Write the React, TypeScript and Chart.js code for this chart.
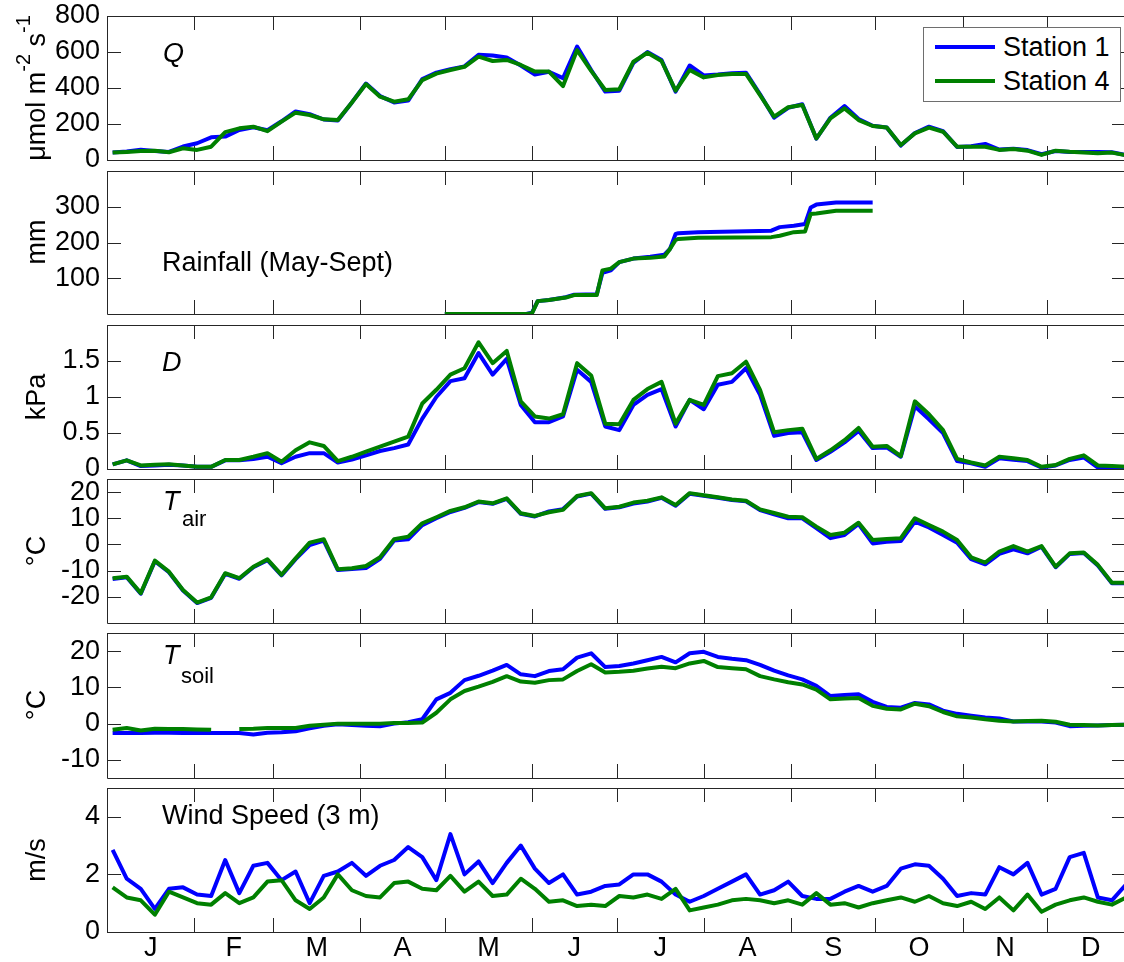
import React, { useEffect, useRef } from "react";
import { Chart, registerables } from "chart.js";

Chart.register(...registerables);

const FONT = '"Liberation Sans", Arial, Helvetica, sans-serif';
const FS = 27;
const BLUE = "#0000ff";
const GREEN = "#008000";
const AXIS = "#262626";

// ---------- data ----------
const DAYS = [2, 7, 12, 17, 22, 27, 32, 37, 42, 47, 52, 57, 62, 67, 72, 77, 82, 87, 92, 97, 102, 107, 112, 117, 122, 127, 132, 137, 142, 147, 152, 157, 162, 167, 172, 177, 182, 187, 192, 197, 202, 207, 212, 217, 222, 227, 232, 237, 242, 247, 252, 257, 262, 267, 272, 277, 282, 287, 292, 297, 302, 307, 312, 317, 322, 327, 332, 337, 342, 347, 352, 357, 362];

const MONTH_STARTS = [0, 31, 59, 90, 120, 151, 181, 212, 243, 273, 304, 334];
const MONTH_MIDS = [15.5, 45, 74.5, 105, 135.5, 166, 196.5, 227.5, 258, 288.5, 319, 349.5];
const MONTH_LABELS = ["J", "F", "M", "A", "M", "J", "J", "A", "S", "O", "N", "D"];

const Q_S1 = [42, 47, 57, 50, 45, 75, 93, 126, 130, 167, 182, 165, 215, 270, 255, 225, 220, 320, 425, 355, 320, 330, 450, 485, 505, 520, 585, 580, 570, 525, 475, 490, 455, 630, 500, 380, 385, 540, 600, 555, 380, 525, 470, 475, 482, 485, 365, 235, 290, 310, 118, 235, 300, 228, 190, 180, 80, 150, 185, 160, 72, 76, 89, 58, 63, 55, 32, 50, 45, 45, 45, 43, 28];
const Q_S4 = [41, 45, 50, 52, 43, 65, 56, 74, 155, 176, 185, 160, 213, 263, 250, 226, 222, 320, 422, 352, 324, 337, 444, 480, 500, 518, 574, 550, 556, 528, 491, 491, 411, 611, 495, 389, 393, 546, 596, 550, 385, 500, 459, 472, 478, 478, 360, 241, 293, 306, 120, 231, 287, 222, 189, 181, 83, 148, 180, 157, 74, 74, 74, 56, 61, 52, 28, 52, 46, 42, 37, 41, 26];

const RAIN_DAYS = [120, 149, 151, 153, 157, 163, 166, 174, 176, 179, 182, 187, 193, 198, 200, 202, 203, 210, 236, 239, 244, 248, 250, 252, 259, 272];
const RAIN_S1 = [0, 0, 4, 36, 39, 47, 54, 55, 115, 122, 145, 155, 160, 166, 182, 224, 226, 229, 233, 243, 247, 252, 298, 306, 312, 312];
const RAIN_S4 = [0, 0, 2, 36, 39, 46, 53, 53, 122, 127, 145, 155, 157, 161, 182, 207, 210, 213, 215, 219, 229, 231, 280, 281, 289, 289];

const D_S1 = [0.065, 0.12, 0.04, 0.05, 0.06, 0.05, 0.03, 0.03, 0.12, 0.12, 0.14, 0.17, 0.08, 0.17, 0.22, 0.22, 0.09, 0.13, 0.19, 0.25, 0.29, 0.34, 0.7, 1.0, 1.22, 1.26, 1.61, 1.31, 1.53, 0.89, 0.65, 0.65, 0.73, 1.38, 1.21, 0.59, 0.54, 0.89, 1.03, 1.11, 0.59, 0.96, 0.83, 1.17, 1.21, 1.4, 1.03, 0.46, 0.5, 0.51, 0.125, 0.24, 0.37, 0.53, 0.29, 0.3, 0.17, 0.87, 0.69, 0.5, 0.11, 0.08, 0.03, 0.15, 0.13, 0.11, 0.02, 0.05, 0.125, 0.16, 0.02, 0.02, 0.02];
const D_S4 = [0.065, 0.12, 0.05, 0.06, 0.065, 0.05, 0.03, 0.03, 0.125, 0.125, 0.17, 0.22, 0.1, 0.26, 0.37, 0.32, 0.11, 0.17, 0.24, 0.31, 0.38, 0.45, 0.91, 1.1, 1.31, 1.4, 1.76, 1.47, 1.64, 0.94, 0.73, 0.7, 0.76, 1.47, 1.3, 0.63, 0.62, 0.96, 1.11, 1.21, 0.63, 0.96, 0.89, 1.29, 1.33, 1.49, 1.1, 0.51, 0.54, 0.56, 0.14, 0.26, 0.4, 0.57, 0.31, 0.32, 0.18, 0.94, 0.76, 0.54, 0.14, 0.09, 0.05, 0.17, 0.15, 0.125, 0.03, 0.055, 0.14, 0.19, 0.05, 0.04, 0.03];

const TAIR_S1 = [-13.2, -12.5, -18.8, -6.4, -10.6, -17.6, -22.4, -20.4, -11.2, -13.1, -8.7, -6, -11.8, -5.6, -0.2, 1.5, -9.8, -9.4, -9, -5.5, 1.5, 2, 7.4, 10, 12.4, 14, 16.2, 15.5, 17.4, 11.7, 10.7, 12.6, 13.5, 18.3, 19.4, 13.6, 14.2, 15.6, 16.4, 17.8, 14.8, 19.4, 18.6, 17.8, 17, 16.5, 13.1, 11.5, 10, 10, 6.2, 2.4, 3.6, 7.8, 0.4, 1, 1.3, 8.7, 6.5, 3.6, 0.7, -5.6, -7.6, -3.6, -1.9, -3.4, -0.9, -8.7, -3.6, -3.3, -8, -14.8, -14.8];
const TAIR_S4 = [-12.9, -12.3, -18.6, -6.2, -10.4, -17.4, -22.2, -20.2, -11, -12.9, -8.5, -5.7, -11.6, -5.3, 0.7, 2, -9.5, -9.1, -8.2, -4.9, 2, 3, 8.1, 10.4, 12.8, 14.2, 16.4, 15.7, 17.6, 11.9, 10.9, 12.3, 13.2, 18.5, 19.6, 13.8, 14.4, 16, 16.7, 18, 15.1, 19.6, 18.8, 18, 17.2, 16.7, 13.4, 12, 10.6, 10.4, 6.8, 3.6, 4.5, 8.3, 1.7, 2.1, 2.4, 10, 7.4, 4.9, 1.7, -4.9, -6.9, -2.7, -0.6, -2.7, -0.6, -8.5, -3.4, -3.1, -7.8, -14.6, -14.6];

const TSOIL_S1 = [-2.6, -2.6, -2.6, -2.5, -2.5, -2.6, -2.6, -2.6, -2.6, -2.6, -3.0, -2.5, -2.4, -2.1, -1.3, -0.6, -0.2, -0.4, -0.6, -0.7, 0, 0.4, 1.2, 6.7, 8.5, 12, 13.2, 14.6, 16.2, 13.6, 13.1, 14.5, 15, 18.2, 19.4, 15.6, 15.9, 16.6, 17.5, 18.4, 16.9, 19.4, 19.8, 18.4, 17.9, 17.5, 16.2, 14.6, 13.3, 12.2, 10.4, 7.6, 7.9, 8.1, 6, 4.6, 4.4, 5.7, 5.3, 3.6, 2.7, 2.2, 1.7, 1.4, 0.6, 0.6, 0.6, 0.3, -0.7, -0.6, -0.5, -0.4, -0.3];
const TSOIL_S4 = [-1.7, -1.2, -1.9, -1.4, -1.5, -1.5, -1.6, -1.7, null, -1.5, -1.4, -1.2, -1.2, -1.2, -0.6, -0.3, 0, 0, 0, 0, 0.2, 0.2, 0.3, 3, 6.7, 9, 10.2, 11.5, 13.1, 11.6, 11.3, 12, 12.2, 14.5, 16.4, 14.1, 14.3, 14.6, 15.2, 15.7, 15.3, 16.6, 17.3, 15.6, 15.3, 15, 13.1, 12.2, 11.4, 10.8, 9.4, 6.7, 6.9, 7.1, 4.9, 4.1, 3.9, 5.5, 4.8, 3.2, 2, 1.7, 1.2, 0.8, 0.6, 0.7, 0.8, 0.5, -0.3, -0.4, -0.5, -0.4, -0.3];

const WIND_S1 = [2.85, 1.85, 1.5, 0.8, 1.5, 1.55, 1.3, 1.25, 2.5, 1.35, 2.3, 2.4, 1.8, 2.1, 1.0, 1.95, 2.1, 2.4, 1.95, 2.3, 2.5, 2.95, 2.6, 1.8, 3.4, 2.0, 2.45, 1.7, 2.4, 3.0, 2.2, 1.7, 2.0, 1.3, 1.4, 1.6, 1.65, 2.0, 2.0, 1.75, 1.3, 1.05, 1.25, 1.5, 1.75, 2.0, 1.3, 1.45, 1.75, 1.25, 1.15, 1.15, 1.4, 1.6, 1.4, 1.6, 2.2, 2.35, 2.3, 1.85, 1.25, 1.35, 1.3, 2.25, 2.0, 2.4, 1.3, 1.5, 2.6, 2.75, 1.2, 1.1, 1.65];
const WIND_S4 = [1.55, 1.2, 1.1, 0.6, 1.4, 1.2, 1.0, 0.95, 1.35, 1.0, 1.2, 1.75, 1.8, 1.1, 0.8, 1.2, 2.0, 1.45, 1.25, 1.2, 1.7, 1.75, 1.5, 1.45, 1.95, 1.4, 1.75, 1.25, 1.3, 1.85, 1.5, 1.05, 1.1, 0.9, 0.95, 0.9, 1.25, 1.2, 1.3, 1.15, 1.5, 0.75, 0.85, 0.95, 1.1, 1.15, 1.1, 1.0, 1.1, 0.95, 1.35, 0.95, 1.0, 0.85, 1.0, 1.1, 1.2, 1.05, 1.25, 1.0, 0.9, 1.05, 0.8, 1.2, 0.75, 1.3, 0.7, 0.95, 1.1, 1.2, 1.05, 0.95, 1.2];

const Q_TICKS = [0, 200, 400, 600, 800];
const RAIN_TICKS = [100, 200, 300];
const D_TICKS = [0, 0.5, 1, 1.5];
const TAIR_TICKS = [-20, -10, 0, 10, 20];
const TSOIL_TICKS = [-10, 0, 10, 20];
const WIND_TICKS = [0, 2, 4];

// ---------- layout ----------
const CANVAS_W = 1128;
const PLOT_LEFT = 107;
const PAD = 18;
const TICK = 14;
const X_MIN = 0;
const X_MAX = 362;

type Series = { label: string; color: string; days: number[]; values: (number | null)[]; order: number };
type PanelCfg = { top: number; bottom: number; min: number; max: number; ticks: number[]; showX: boolean; series: Series[] };

const pair = (d1: number[], v1: (number | null)[], d4: number[], v4: (number | null)[]): Series[] => [
  { label: "Station 1", color: BLUE, days: d1, values: v1, order: 1 },
  { label: "Station 4", color: GREEN, days: d4, values: v4, order: 0 },
];

const PANELS: PanelCfg[] = [
  { top: 16, bottom: 160, min: 0, max: 800, ticks: Q_TICKS, showX: false, series: pair(DAYS, Q_S1, DAYS, Q_S4) },
  { top: 171, bottom: 314, min: 0, max: 400, ticks: RAIN_TICKS, showX: false, series: pair(RAIN_DAYS, RAIN_S1, RAIN_DAYS, RAIN_S4) },
  { top: 325, bottom: 469, min: 0, max: 2, ticks: D_TICKS, showX: false, series: pair(DAYS, D_S1, DAYS, D_S4) },
  { top: 479, bottom: 623, min: -30, max: 25, ticks: TAIR_TICKS, showX: false, series: pair(DAYS, TAIR_S1, DAYS, TAIR_S4) },
  { top: 633, bottom: 778, min: -15, max: 25, ticks: TSOIL_TICKS, showX: false, series: pair(DAYS, TSOIL_S1, DAYS, TSOIL_S4) },
  { top: 788, bottom: 932, min: 0, max: 5, ticks: WIND_TICKS, showX: true, series: pair(DAYS, WIND_S1, DAYS, WIND_S4) },
];

const framePlugin = {
  id: "frame",
  beforeDatasetsDraw(chart: any) {
    const { ctx, chartArea } = chart;
    const { left, right, top, bottom } = chartArea;
    const x = chart.scales.x;
    const y = chart.scales.y;
    ctx.save();
    ctx.strokeStyle = AXIS;
    ctx.lineWidth = 1;
    ctx.beginPath();
    ctx.rect(Math.round(left) + 0.5, Math.round(top) + 0.5, Math.round(right - left), Math.round(bottom - top));
    MONTH_STARTS.forEach((d) => {
      const px = Math.round(x.getPixelForValue(d)) + 0.5;
      ctx.moveTo(px, top);
      ctx.lineTo(px, top + TICK);
      ctx.moveTo(px, bottom);
      ctx.lineTo(px, bottom - TICK);
    });
    y.ticks.forEach((t: any) => {
      const py = Math.round(y.getPixelForValue(t.value)) + 0.5;
      ctx.moveTo(left, py);
      ctx.lineTo(left + TICK, py);
      ctx.moveTo(right, py);
      ctx.lineTo(right - TICK, py);
    });
    ctx.stroke();
    ctx.restore();
  },
};

function PanelChart({ cfg }: { cfg: PanelCfg }) {
  const ref = useRef<HTMLCanvasElement | null>(null);
  const xAxisH = cfg.showX ? 34 : 0;
  const padBottom = cfg.showX ? 0 : PAD;
  const height = cfg.bottom - cfg.top + PAD + padBottom + xAxisH;

  useEffect(() => {
    const canvas = ref.current;
    if (!canvas) return;
    const font = { family: FONT, size: FS };
    const chart = new Chart(canvas, {
      type: "line",
      data: {
        datasets: cfg.series.map((s) => ({
          label: s.label,
          data: s.days.map((d, i) => ({ x: d, y: s.values[i] })),
          borderColor: s.color,
          backgroundColor: s.color,
          borderWidth: 4,
          pointRadius: 0,
          tension: 0,
          fill: false,
          spanGaps: false,
          order: s.order,
          borderJoinStyle: "round",
        })),
      },
      options: {
        animation: false,
        responsive: false,
        devicePixelRatio: 1,
        events: [],
        layout: { padding: { top: PAD, bottom: padBottom, left: 0, right: CANVAS_W - 1126 } },
        plugins: { legend: { display: false }, tooltip: { enabled: false } },
        scales: {
          x: {
            type: "linear",
            min: X_MIN,
            max: X_MAX,
            display: cfg.showX,
            position: "bottom",
            afterBuildTicks: (s: any) => {
              s.ticks = MONTH_MIDS.map((v) => ({ value: v }));
            },
            afterFit: (s: any) => {
              s.height = xAxisH;
              s.paddingLeft = 0;
              s.paddingRight = 0;
            },
            ticks: {
              autoSkip: false,
              maxRotation: 0,
              padding: 0,
              color: "#000",
              font,
              callback: (_v: any, i: number) => MONTH_LABELS[i],
            },
            grid: { display: false, drawTicks: false },
            border: { display: false },
          },
          y: {
            type: "linear",
            min: cfg.min,
            max: cfg.max,
            afterBuildTicks: (s: any) => {
              s.ticks = cfg.ticks.map((v) => ({ value: v }));
            },
            afterFit: (s: any) => {
              s.width = PLOT_LEFT;
              s.paddingTop = 0;
              s.paddingBottom = 0;
            },
            ticks: {
              autoSkip: false,
              padding: 7,
              color: "#000",
              font,
              callback: (v: any) => String(v),
            },
            grid: { display: false, drawTicks: false },
            border: { display: false },
          },
        },
      } as any,
      plugins: [framePlugin],
    });
    return () => chart.destroy();
  }, []);

  return (
    <canvas
      ref={ref}
      width={CANVAS_W}
      height={height}
      style={{ position: "absolute", left: 0, top: cfg.top - PAD, width: CANVAS_W, height }}
    />
  );
}

const BASE = 0.8465;

function Txt({ x, base, size = FS, italic = false, children }: any) {
  return (
    <div
      style={{
        position: "absolute",
        left: x,
        top: base - BASE * size,
        fontSize: size,
        lineHeight: 1,
        fontStyle: italic ? "italic" : "normal",
        whiteSpace: "nowrap",
        color: "#000",
      }}
    >
      {children}
    </div>
  );
}

function YTitle({ cy, children }: any) {
  return (
    <div
      style={{
        position: "absolute",
        left: 36,
        top: cy,
        transform: "translate(-50%, -50%) rotate(-90deg)",
        fontSize: FS,
        lineHeight: 1,
        whiteSpace: "nowrap",
        color: "#000",
      }}
    >
      {children}
    </div>
  );
}

const Sup = ({ children }: any) => (
  <span style={{ fontSize: 20, position: "relative", top: -15 }}>{children}</span>
);

export default function App() {
  return (
    <div
      style={{
        position: "absolute",
        left: 0,
        top: 0,
        width: 1124,
        height: 962,
        overflow: "hidden",
        background: "#fff",
        fontFamily: FONT,
      }}
    >
      {PANELS.map((p, i) => (
        <PanelChart key={i} cfg={p} />
      ))}

      <YTitle cy={88}>
        μmol m<Sup>-2</Sup> s<Sup>-1</Sup>
      </YTitle>
      <YTitle cy={242}>mm</YTitle>
      <YTitle cy={397}>kPa</YTitle>
      <YTitle cy={551}>°C</YTitle>
      <YTitle cy={705}>°C</YTitle>
      <YTitle cy={860}>m/s</YTitle>

      <Txt x={163} base={63} italic>
        Q
      </Txt>
      <Txt x={162} base={272}>
        Rainfall (May-Sept)
      </Txt>
      <Txt x={162} base={372} italic>
        D
      </Txt>
      <Txt x={163} base={511} italic>
        T
      </Txt>
      <Txt x={182} base={527} size={22}>
        air
      </Txt>
      <Txt x={163} base={665} italic>
        T
      </Txt>
      <Txt x={181} base={684} size={22}>
        soil
      </Txt>
      <Txt x={162} base={825}>
        Wind Speed (3 m)
      </Txt>

      <div
        style={{
          position: "absolute",
          left: 923,
          top: 27,
          width: 198,
          height: 75,
          boxSizing: "border-box",
          border: "1px solid #6e6e6e",
          background: "#fff",
        }}
      >
        <div style={{ position: "absolute", left: 11, top: 17, width: 60, height: 4, background: BLUE }} />
        <Txt x={79} base={29}>
          Station 1
        </Txt>
        <div style={{ position: "absolute", left: 11, top: 51, width: 60, height: 4, background: GREEN }} />
        <Txt x={79} base={63}>
          Station 4
        </Txt>
      </div>
    </div>
  );
}
